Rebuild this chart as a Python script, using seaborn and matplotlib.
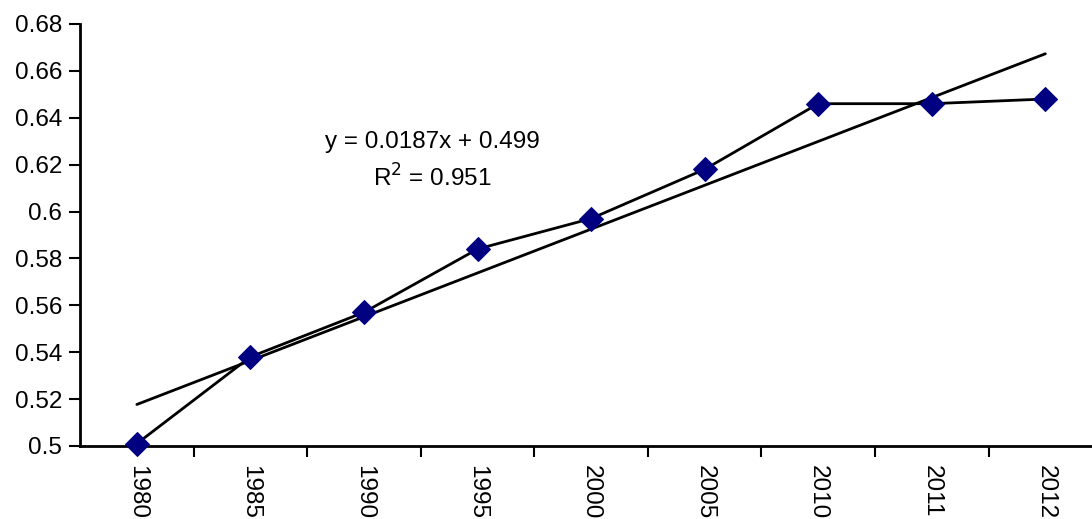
import numpy as np
import pandas as pd
import seaborn as sns
import matplotlib.pyplot as plt

# Data
years = ["1980", "1985", "1990", "1995", "2000", "2005", "2010", "2011", "2012"]
values = [0.501, 0.538, 0.557, 0.584, 0.597, 0.618, 0.646, 0.646, 0.648]
slope = 0.0187
intercept = 0.499
r2 = 0.951

sns.set_style("white")
plt.rcParams['font.family'] = ['Liberation Sans', 'DejaVu Sans']
plt.rcParams['text.color'] = 'black'
plt.rcParams['xtick.color'] = 'black'
plt.rcParams['ytick.color'] = 'black'

df = pd.DataFrame({"pos": np.arange(len(years)), "value": values})
df["trend"] = slope * (df["pos"] + 1) + intercept

fig = plt.figure(figsize=(10.92, 5.19), dpi=100)
ax = fig.add_axes([0.0733, 0.1407, 0.936, 0.8131])

sns.lineplot(data=df, x="pos", y="trend", color="black", linewidth=2, ax=ax)
sns.lineplot(data=df, x="pos", y="value", color="black", linewidth=2,
             marker="D", markersize=12, markerfacecolor="#000080",
             markeredgecolor="#000080", clip_on=False, zorder=5, ax=ax)

ax.set_xlim(-0.5, len(years) - 0.5)
ax.set_ylim(0.5, 0.68)
ax.set_yticks(np.arange(0.5, 0.681, 0.02))
ax.set_yticklabels(["0.5", "0.52", "0.54", "0.56", "0.58", "0.6",
                    "0.62", "0.64", "0.66", "0.68"], fontsize=17.5)
ax.set_xticks(df["pos"])
ax.set_xticklabels(years, rotation=270, fontsize=17.5)
ax.set_xticks(np.arange(0.5, len(years) - 0.5), minor=True)
ax.tick_params(axis="x", which="major", bottom=False, length=0, pad=14)
ax.tick_params(axis="x", which="minor", bottom=True, length=8, width=1.5,
               color="black", direction="out")
ax.tick_params(axis="y", left=True, length=8, width=1.5, color="black",
               direction="out", pad=5)
ax.set_xlabel("")
ax.set_ylabel("")

for side in ["top", "right"]:
    ax.spines[side].set_visible(False)
for side in ["left", "bottom"]:
    ax.spines[side].set_color("black")
    ax.spines[side].set_linewidth(2)

ax.text(2.6, 0.6295, f"y = {slope}x + {intercept}", fontsize=17.5, ha="center", va="center")
ax.text(2.6, 0.6145, f"R$^2$ = {r2}", fontsize=17.5, ha="center", va="center")

fig.savefig("out.png", dpi=100)
